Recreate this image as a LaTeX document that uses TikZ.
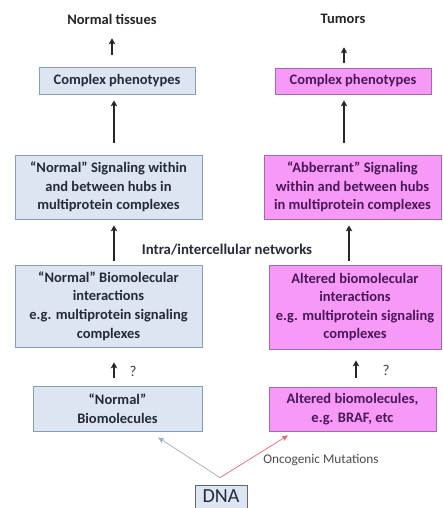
\documentclass[tikz,border=0pt]{standalone}
\usepackage{fontspec}
\setmainfont{Carlito}
\usetikzlibrary{arrows.meta,calc}

\definecolor{normfill}{HTML}{DCE6F2}
\definecolor{normline}{HTML}{8A9CB6}
\definecolor{tumfill}{HTML}{F79AF7}
\definecolor{tumline}{HTML}{9C6CAE}
\definecolor{normtext}{HTML}{262A38}
\definecolor{tumtext}{HTML}{4A1858}
\definecolor{mutred}{HTML}{E06A76}
\definecolor{mutblue}{HTML}{A4ACC6}

\tikzset{
  normbox/.style={draw=normline,fill=normfill,line width=0.8pt,inner sep=0pt,align=center,
    text=normtext,font=\fontsize{14.5}{18.6}\selectfont\bfseries},
  tumbox/.style={normbox,draw=tumline,fill=tumfill,text=tumtext},
  headlabel/.style={inner sep=0pt,anchor=base,text=black!85,font=\fontsize{14.5}{16}\selectfont\bfseries},
  qlabel/.style={inner sep=0pt,text=black!75,font=\fontsize{15}{16}\selectfont},
  up/.style={-{Stealth[length=6pt,width=6.5pt,inset=1.5pt]},line width=1.3pt,black!85},
  mut/.style={-{Stealth[length=6pt,width=5pt,inset=1pt]},line width=0.7pt}
}

\begin{document}
\begin{tikzpicture}[x=1pt,y=1pt]
\useasboundingbox[fill=white] (0,0) rectangle (442,508);
% Headings
\node[headlabel] (NT) at (112,483) {Normal tissues};
\node[headlabel] (TU) at (343,484) {Tumors};
% Left column: normal
\node[normbox,minimum width=156pt,minimum height=27pt] (LC) at (117,427.5) {Complex phenotypes};
\node[normbox,minimum width=187pt,minimum height=64pt] (LS) at (108.5,321) {\textquotedblleft Normal\textquotedblright{} Signaling within\\and between hubs in\\multiprotein complexes};
\node[normbox,minimum width=187pt,minimum height=82pt] (LI) at (108.5,202) {\textquotedblleft Normal\textquotedblright{} Biomolecular\\interactions\\e.g. multiprotein signaling\\complexes};
\node[normbox,minimum width=169pt,minimum height=45pt] (LB) at (117.5,99.5) {\textquotedblleft Normal\textquotedblright\\Biomolecules};
% Right column: tumors
\node[tumbox,minimum width=156pt,minimum height=26pt] (RC) at (353,427) {Complex phenotypes};
\node[tumbox,minimum width=177pt,minimum height=64pt] (RS) at (352.5,321) {\textquotedblleft Abberrant\textquotedblright{} Signaling\\within and between hubs\\in multiprotein complexes};
\node[tumbox,minimum width=172pt,minimum height=84pt] (RI) at (355,201) {Altered biomolecular\\interactions\\e.g. multiprotein signaling\\complexes};
\node[tumbox,minimum width=167pt,minimum height=44pt] (RB) at (352.5,99) {Altered biomolecules,\\e.g. BRAF, etc};
% DNA and labels
\node[normbox,draw=black!60,font=\fontsize{20}{22}\selectfont,minimum width=52pt,minimum height=23pt] (DNA) at (221,11.5) {DNA};
\node[inner sep=0pt,text=normtext,font=\fontsize{14.8}{16}\selectfont\bfseries] (NET) at (227,258) {Intra/intercellular networks};
\node[qlabel] (QL) at (133,137) {?};
\node[qlabel] (QR) at (386,138) {?};
\node[inner sep=0pt,text=black!70,font=\fontsize{13.3}{15}\selectfont] (ONC) at (321,48) {Oncogenic Mutations};
% Arrow columns
\coordinate (lx) at (114,0);
\coordinate (rx1) at (344,0);
\coordinate (rx2) at (349,0);
\coordinate (rx3) at (356,0);
% Left arrows
\draw[up,shorten <=12pt,shorten >=13pt] (LC.north -| NT) -- (NT.south);
\draw[up,shorten <=12pt,shorten >=6pt] (LS.north -| lx) -- (LC.south -| lx);
\draw[up,shorten <=4pt,shorten >=6pt] (LI.north -| lx) -- (LS.south -| lx);
\draw[up,shorten <=8pt,shorten >=15pt] (LB.north -| lx) -- (LI.south -| lx);
% Right arrows
\draw[up,shorten <=5pt,shorten >=23pt] (RC.north -| rx1) -- (TU.south -| rx1);
\draw[up,shorten <=12pt,shorten >=6pt] (RS.north -| rx1) -- (RC.south -| rx1);
\draw[up,shorten <=4pt,shorten >=6pt] (RI.north -| rx2) -- (RS.south -| rx2);
\draw[up,shorten <=9pt,shorten >=11pt] (RB.north -| rx3) -- (RI.south -| rx3);
% Mutation arrows
\coordinate (split) at ($(DNA.north)+(-1,7)$);
\coordinate (lbend) at ($(LB.south)+(40.5,-6)$);
\coordinate (rbend) at ($(RB.south)+(-64.5,-4)$);
\draw[mut,mutblue] (split) -- (lbend);
\draw[mut,mutred] (split) -- (rbend);
\end{tikzpicture}
\end{document}
